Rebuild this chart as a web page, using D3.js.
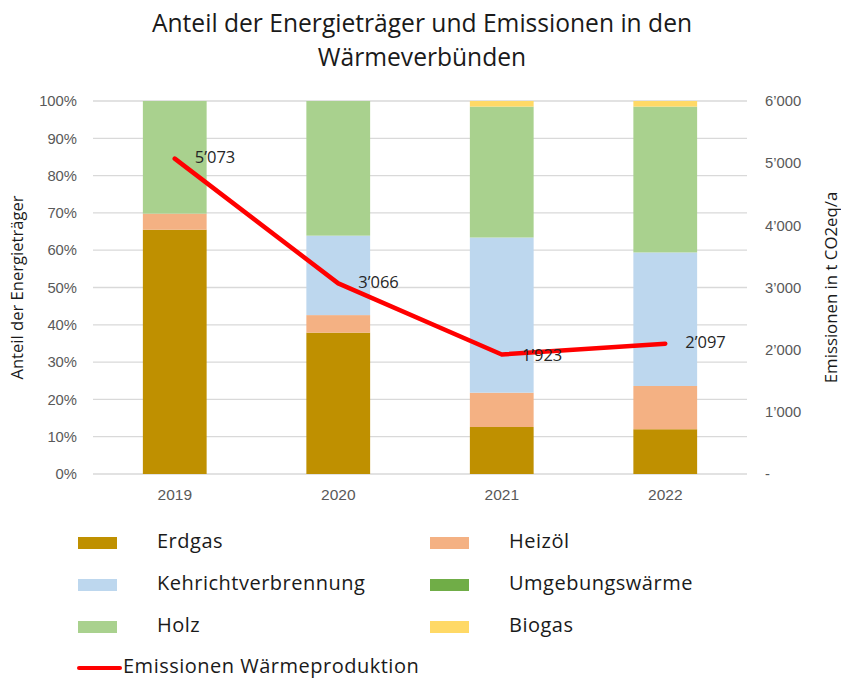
<!DOCTYPE html>
<html>
<head>
<meta charset="utf-8">
<script src="https://cdn.jsdelivr.net/npm/d3@7"></script>
<style>
  html, body { margin: 0; padding: 0; background: #fff; }
  svg { display: block; font-family: "Open Sans", Lato, sans-serif; }
</style>
</head>
<body>
<div id="chart"></div>
<script>
// Anteil der Energieträger (gestapelt, %) + Emissionen (Linie, rechte Achse)
const years = ["2019", "2020", "2021", "2022"]
const carriers = ["Erdgas", "Heizöl", "Kehrichtverbrennung", "Umgebungswärme", "Holz", "Biogas"]
const carrierColors = ["#bf9000", "#f4b183", "#bdd7ee", "#70ad47", "#a9d18e", "#ffd966"]

// Anteile in %, eine Liste pro Energieträger (Reihenfolge = years)
const erdgas = [65.5, 37.9, 12.6, 12.0]
const heizoel = [4.3, 4.7, 9.2, 11.6]
const kehricht = [0, 21.3, 41.6, 35.8]
const umgebung = [0, 0, 0, 0]
const holz = [30.2, 36.1, 35.1, 39.1]
const biogas = [0, 0, 1.5, 1.5]

const emissions = [5073, 3066, 1923, 2097]

const pctTicks = [0, 0.1, 0.2, 0.3, 0.4, 0.5, 0.6, 0.7, 0.8, 0.9, 1]
const emTicks = [0, 1000, 2000, 3000, 4000, 5000, 6000]

const series = [erdgas, heizoel, kehricht, umgebung, holz, biogas]
const table = years.map((yr, i) => {
  const row = { year: yr }
  carriers.forEach((c, k) => { row[c] = series[k][i] / 100 })
  return row
})

const W = 841, H = 680
const plot = { left: 93, right: 747, top: 101, bottom: 474 }

const svg = d3.select("#chart").append("svg")
  .attr("width", W).attr("height", H)
  .attr("viewBox", `0 0 ${W} ${H}`)

const textCol = "#595959"

// Titel
svg.append("text")
  .attr("x", 422).attr("y", 32)
  .attr("text-anchor", "middle").attr("font-size", 24.6).attr("fill", "#1a1a1a")
  .text("Anteil der Energieträger und Emissionen in den")
svg.append("text")
  .attr("x", 422).attr("y", 66)
  .attr("text-anchor", "middle").attr("font-size", 24.6).attr("fill", "#1a1a1a")
  .text("Wärmeverbünden")

const x = d3.scaleBand().domain(years)
  .range([plot.left, plot.right])
  .paddingInner(0.61).paddingOuter(0.305)
const y = d3.scaleLinear().domain([0, 1]).range([plot.bottom, plot.top])
const yR = d3.scaleLinear().domain([0, 6000]).range([plot.bottom, plot.top])

const loc = d3.formatLocale({ decimal: ".", thousands: "’", grouping: [3], currency: ["", ""] })
const fmtNum = loc.format(",d")
const fmtPct = d3.format(".0%")

// Gitterlinien
svg.append("g")
  .selectAll("line")
  .data(pctTicks)
  .join("line")
  .attr("x1", plot.left).attr("x2", plot.right)
  .attr("y1", d => y(d)).attr("y2", d => y(d))
  .attr("stroke", "#d9d9d9").attr("stroke-width", 1.3)

// linke Achse
svg.append("g")
  .attr("transform", `translate(${plot.left - 16},0)`)
  .call(d3.axisLeft(y).tickValues(pctTicks).tickFormat(fmtPct).tickSize(0).tickPadding(0))
  .call(s => s.select(".domain").remove())
  .call(s => s.selectAll("text").attr("fill", textCol).attr("font-size", 14.8).attr("font-family", null))

// rechte Achse
svg.append("g")
  .attr("transform", `translate(${plot.right + 18},0)`)
  .call(d3.axisRight(yR).tickValues(emTicks).tickFormat(d => d === 0 ? "-" : fmtNum(d)).tickSize(0).tickPadding(0))
  .call(s => s.select(".domain").remove())
  .call(s => s.selectAll("text").attr("fill", textCol).attr("font-size", 14.8).attr("font-family", null))

// untere Achse
svg.append("g")
  .attr("transform", `translate(0,${plot.bottom})`)
  .call(d3.axisBottom(x).tickSize(0).tickPadding(15))
  .call(s => s.select(".domain").remove())
  .call(s => s.selectAll("text").attr("fill", textCol).attr("font-size", 15.5).attr("font-family", null))

// Achsentitel
svg.append("text")
  .attr("transform", `translate(23,${(plot.top + plot.bottom) / 2}) rotate(-90)`)
  .attr("text-anchor", "middle").attr("font-size", 16.6).attr("fill", "#1a1a1a")
  .text("Anteil der Energieträger")
svg.append("text")
  .attr("transform", `translate(837,${(plot.top + plot.bottom) / 2}) rotate(-90)`)
  .attr("text-anchor", "middle").attr("font-size", 16.8).attr("fill", "#1a1a1a")
  .text("Emissionen in t CO2eq/a")

// gestapelte Balken
const stacked = d3.stack().keys(carriers)(table)
const color = d3.scaleOrdinal().domain(carriers).range(carrierColors)

svg.append("g")
  .selectAll("g")
  .data(stacked)
  .join("g")
  .attr("fill", d => color(d.key))
  .selectAll("rect")
  .data(d => d)
  .join("rect")
  .attr("x", d => x(d.data.year))
  .attr("width", x.bandwidth())
  .attr("y", d => y(d[1]))
  .attr("height", d => y(d[0]) - y(d[1]))

// Emissionslinie
const pts = years.map((yr, i) => [x(yr) + x.bandwidth() / 2, yR(emissions[i])])
svg.append("path")
  .attr("d", d3.line()(pts))
  .attr("fill", "none")
  .attr("stroke", "#ff0000")
  .attr("stroke-width", 4.5)
  .attr("stroke-linejoin", "round")
  .attr("stroke-linecap", "round")

svg.append("g")
  .selectAll("text")
  .data(pts)
  .join("text")
  .attr("x", d => d[0] + 20)
  .attr("y", (d, i) => d[1] + (i === 2 ? 2 : 0))
  .attr("dominant-baseline", "middle")
  .attr("font-size", 16.5).attr("fill", "#262626")
  .text((d, i) => fmtNum(emissions[i]))

// Legende
const legend = svg.append("g")
const colX = [78, 430]
const rowY = [543, 585, 627]
carriers.forEach((c, k) => {
  const cx = colX[k % 2], cy = rowY[Math.floor(k / 2)]
  legend.append("rect")
    .attr("x", cx).attr("y", cy - 6).attr("width", 39).attr("height", 12)
    .attr("fill", carrierColors[k])
  legend.append("text")
    .attr("x", cx + 79).attr("y", cy)
    .attr("dominant-baseline", "middle")
    .attr("font-size", 20).attr("letter-spacing", 0.5).attr("fill", "#1a1a1a")
    .text(c)
})
legend.append("line")
  .attr("x1", 79).attr("x2", 120).attr("y1", 668).attr("y2", 668)
  .attr("stroke", "#ff0000").attr("stroke-width", 4).attr("stroke-linecap", "round")
legend.append("text")
  .attr("x", 123).attr("y", 668)
  .attr("dominant-baseline", "middle")
  .attr("font-size", 20).attr("letter-spacing", 0.5).attr("fill", "#1a1a1a")
  .text("Emissionen Wärmeproduktion")
</script>
</body>
</html>
